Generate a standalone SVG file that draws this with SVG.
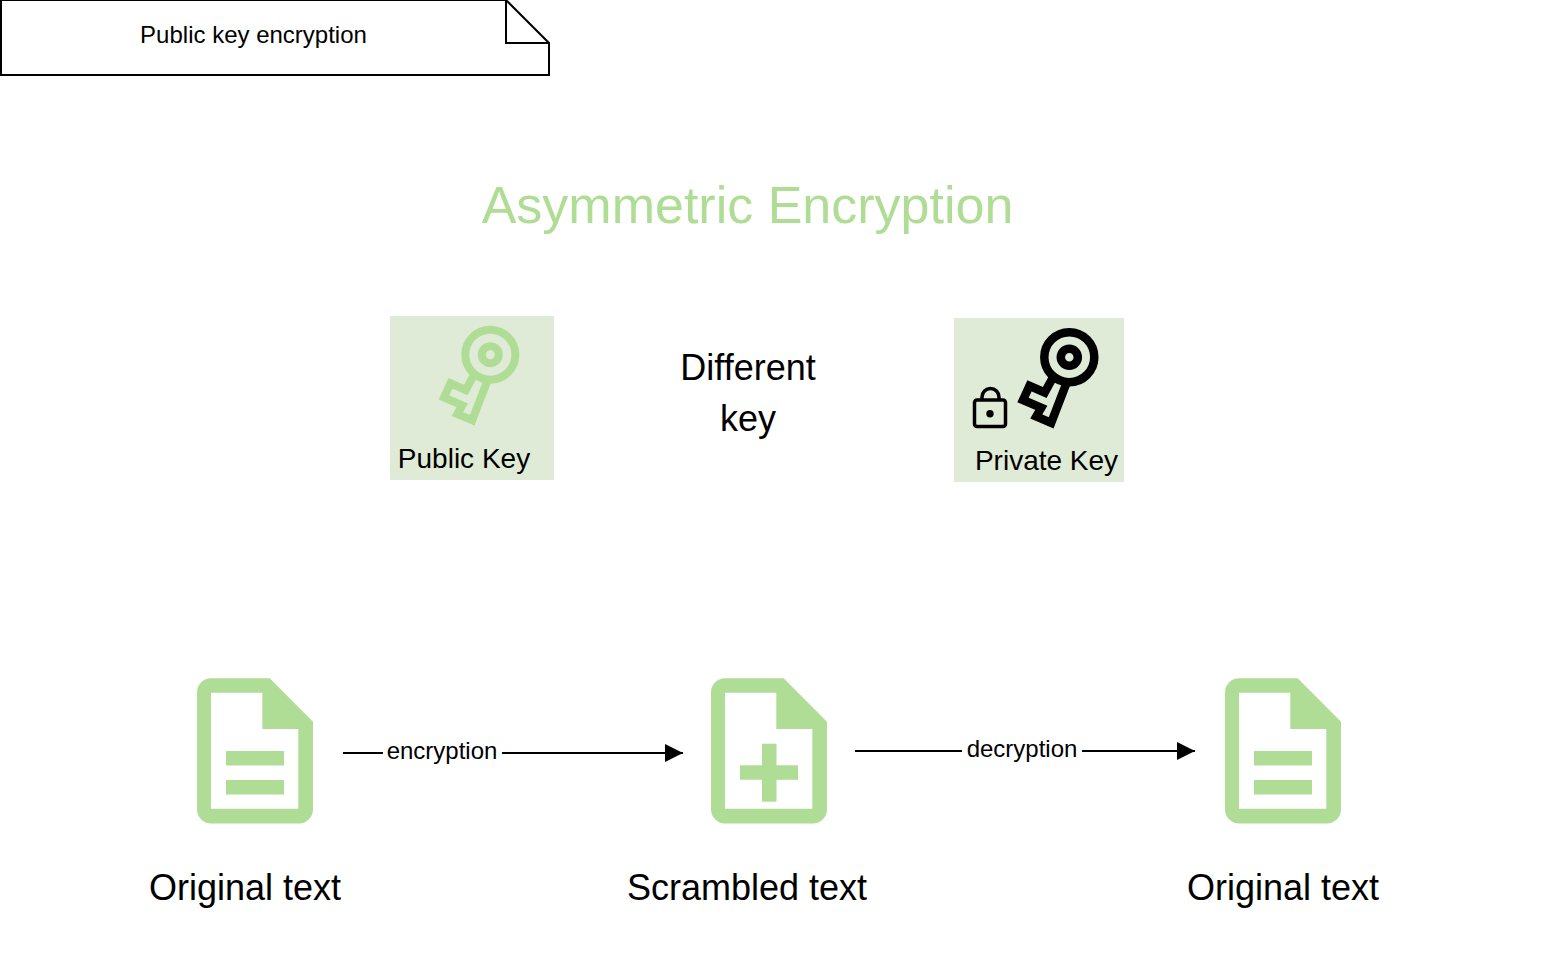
<svg xmlns="http://www.w3.org/2000/svg" width="1568" height="974" viewBox="0 0 1568 974">
<style>
text{font-family:"Liberation Sans",Arial,sans-serif;fill:#000}
.lg{font-size:36px}
.md{font-size:28px}
.sm{font-size:24px}
.doc{fill:#b0dd95;fill-rule:evenodd}
.bar{fill:#b0dd95}
.panel{fill:#dfebd7}
.conn{fill:none;stroke:#000;stroke-width:2}
.ring{fill:none}
.shaft{fill:none;stroke-miterlimit:10}
</style>
<defs>
<marker id="arrow" markerUnits="userSpaceOnUse" markerWidth="20" markerHeight="18" refX="18" refY="9" orient="auto"><path d="M0 0L18 9L0 18Z" fill="#000"/></marker>
<g id="key">
<circle class="ring" cx="490.3" cy="354.7" r="25"/>
<circle class="ring" cx="490.3" cy="354.7" r="8.500"/>
<polyline class="shaft" points="474.300,374.300 465.700,390 450.500,383.300 444,397.500 462.300,405.300 457.300,414 472.200,420.300 488,379.300"/>
</g>
<path id="docbody" d="M211 678.300H269.700L313 721.700V809.300A14 14 0 0 1 299 823.500H211A14 14 0 0 1 197 809.300V692A14 14 0 0 1 211 678.300ZM211 692.700V808.700H298.300V729H262.300V692.700Z"/>
</defs>
<rect width="1568" height="974" fill="#fff"/>
<g id="note">
<path d="M1 0H506L549 43V75H1Z" fill="#fff" stroke="#000" stroke-width="2"/>
<path d="M506 0V43H549" fill="none" stroke="#000" stroke-width="2"/>
<text class="sm" x="253.500" y="43" text-anchor="middle">Public key encryption</text>
</g>
<g id="title"><text x="747.500" y="223" font-size="52" text-anchor="middle" style="fill:#b0dd95">Asymmetric Encryption</text></g>
<g id="public-key">
<rect class="panel" x="390" y="316" width="164" height="164"/>
<use href="#key" stroke="#b0dd95" stroke-width="8"/>
<text class="md" x="464" y="468" text-anchor="middle">Public Key</text>
</g>
<g id="different-key">
<text class="lg" x="748" y="380" text-anchor="middle">Different</text>
<text class="lg" x="748" y="431" text-anchor="middle">key</text>
</g>
<g id="private-key">
<rect class="panel" x="954" y="318" width="170" height="164"/>
<use href="#key" stroke="#000" stroke-width="8.500" transform="translate(579 2.500)"/>
<path d="M982 400V397A8.500 8.500 0 0 1 999 397V400" fill="none" stroke="#000" stroke-width="3.500"/>
<rect x="974.500" y="400" width="31" height="26.500" rx="2.500" fill="none" stroke="#000" stroke-width="3.500"/>
<circle cx="990" cy="413.700" r="3.700" fill="#000"/>
<text class="md" x="1046.500" y="470" text-anchor="middle">Private Key</text>
</g>
<g id="connectors">
<line class="conn" x1="343" y1="753" x2="683" y2="753" marker-end="url(#arrow)"/>
<line class="conn" x1="855" y1="751" x2="1195" y2="751" marker-end="url(#arrow)"/>
<rect x="383" y="735" width="119" height="36" fill="#fff"/>
<rect x="962" y="733" width="120" height="36" fill="#fff"/>
<text class="sm" x="442" y="759" text-anchor="middle">encryption</text>
<text class="sm" x="1022" y="757" text-anchor="middle">decryption</text>
</g>
<g id="doc-original-1">
<use href="#docbody" class="doc"/>
<rect class="bar" x="226" y="751" width="58" height="14.500"/>
<rect class="bar" x="226" y="780" width="58" height="14.500"/>
<text class="lg" x="245" y="900" text-anchor="middle">Original text</text>
</g>
<g id="doc-scrambled">
<use href="#docbody" class="doc" x="514"/>
<rect class="bar" x="740" y="765.300" width="58" height="14.500"/>
<rect class="bar" x="762" y="743.700" width="14.500" height="58"/>
<text class="lg" x="747" y="900" text-anchor="middle">Scrambled text</text>
</g>
<g id="doc-original-2">
<use href="#docbody" class="doc" x="1028"/>
<rect class="bar" x="1254" y="751" width="58" height="14.500"/>
<rect class="bar" x="1254" y="780" width="58" height="14.500"/>
<text class="lg" x="1283" y="900" text-anchor="middle">Original text</text>
</g>
</svg>
